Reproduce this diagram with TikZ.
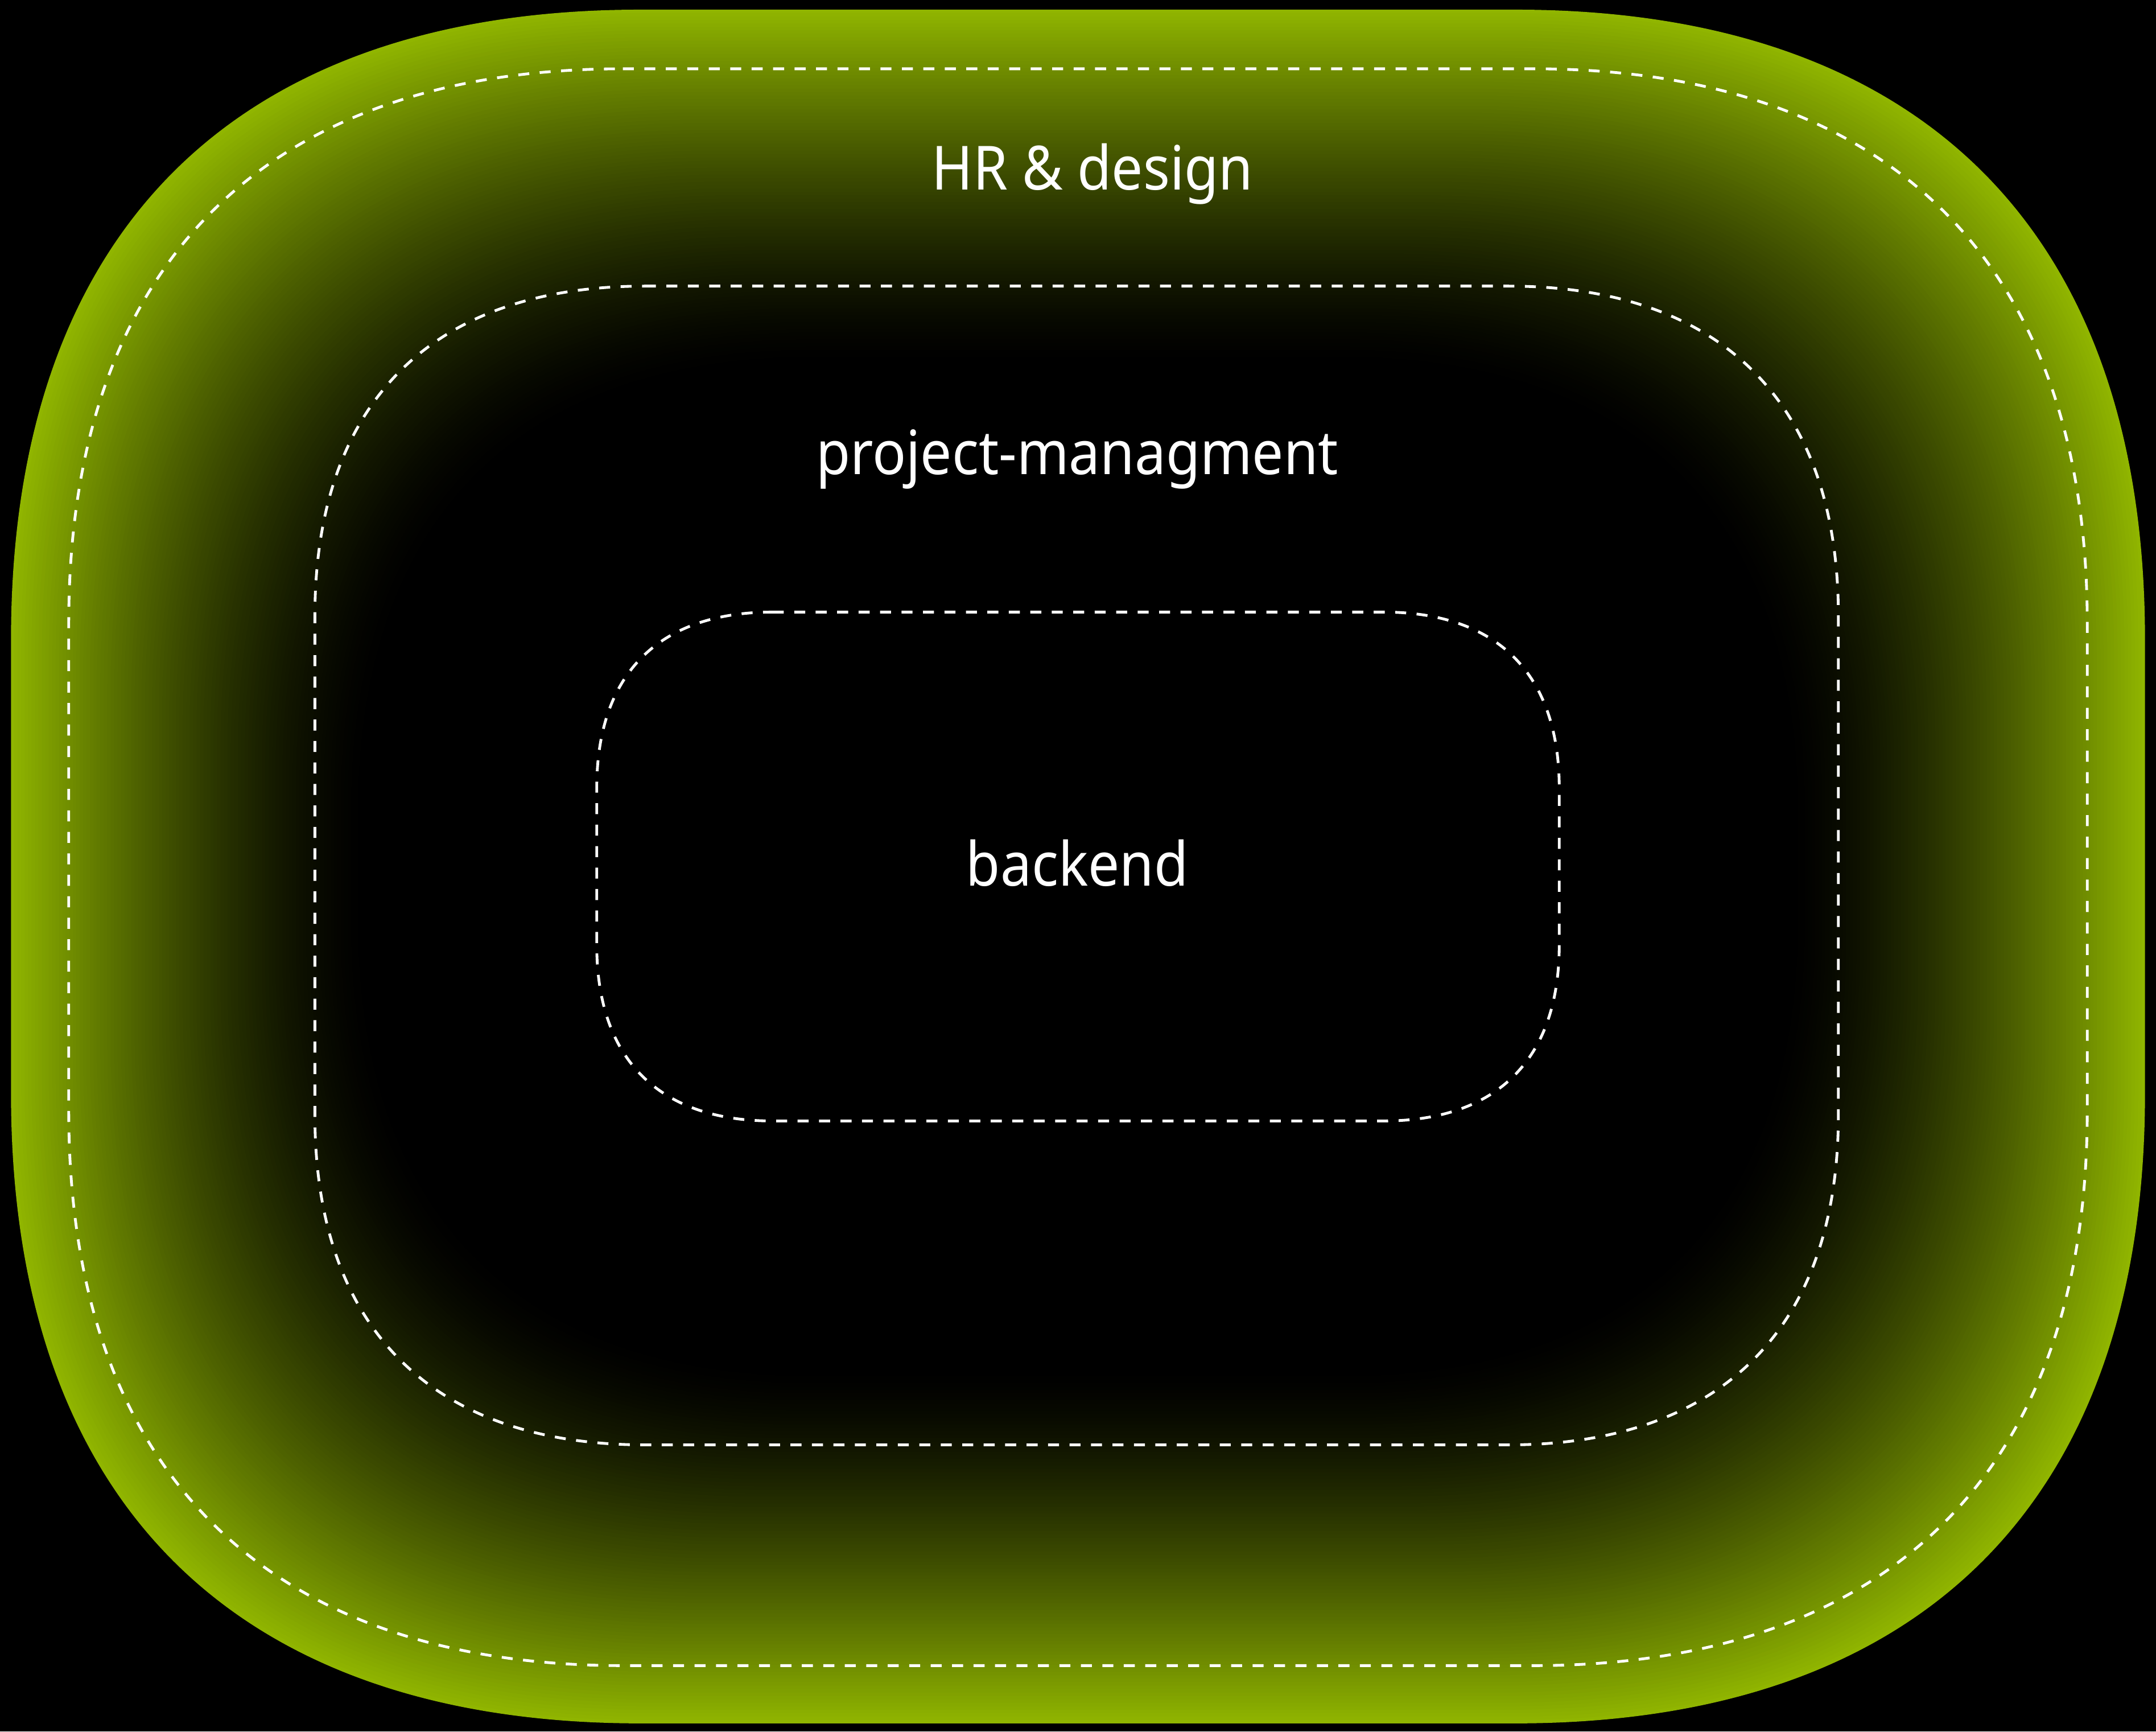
\documentclass[tikz,border=0pt]{standalone}
\usepackage{fontspec}
\setmainfont{Noto Sans}[FakeStretch=0.915]

\definecolor{glowgreen}{RGB}{144,181,0}

\tikzset{
  zone/.style={draw=white,line width=0.02cm,dash pattern=on 0.08cm off 0.076cm},
  zonelabel/.style={text=white,anchor=base,inner sep=0pt,font=\fontsize{12.6}{15}\selectfont}
}

% left, top, right, bottom, corner length, control length
\newcommand{\squirclepath}[6]{%
  ({#1+#5},{#2}) -- ({#3-#5},{#2}) .. controls ({#3-#6},{#2}) and ({#3},{#2+#6}) .. ({#3},{#2+#5})
  -- ({#3},{#4-#5}) .. controls ({#3},{#4-#6}) and ({#3-#6},{#4}) .. ({#3-#5},{#4})
  -- ({#1+#5},{#4}) .. controls ({#1+#6},{#4}) and ({#1},{#4-#6}) .. ({#1},{#4-#5})
  -- ({#1},{#2+#5}) .. controls ({#1},{#2+#6}) and ({#1+#6},{#2}) .. cycle}

\begin{document}
\begin{tikzpicture}[x=0.01cm,y=-0.01cm,line join=round]
\useasboundingbox[fill=black] (0,0) rectangle (1568,1259);
\foreach \d in {0,2.5,...,252.5}{
  \pgfmathsetmacro\glowpct{100*(1-\d/255)^1.4}
  \pgfmathsetmacro\gL{458-0.5*\d}
  \pgfmathsetmacro\gc{0.354*\gL}
  \fill[glowgreen!\glowpct!black] \squirclepath{8+\d}{7+\d}{1560-\d}{1253-\d}{\gL}{\gc};
}
\draw[zone] \squirclepath{50}{50}{1518}{1211}{403}{143};
\draw[zone] \squirclepath{229}{208}{1337}{1050.5}{240}{85};
\draw[zone] \squirclepath{434}{445}{1134}{815}{128}{45};
\node[zonelabel] (hrlabel) at (794.5,137.9) {HR \& design};
\node[zonelabel] (pmlabel) at (783.5,344.9) {project-managment};
\node[zonelabel] (belabel) at (783.5,644.2) {backend};
\end{tikzpicture}
\end{document}
